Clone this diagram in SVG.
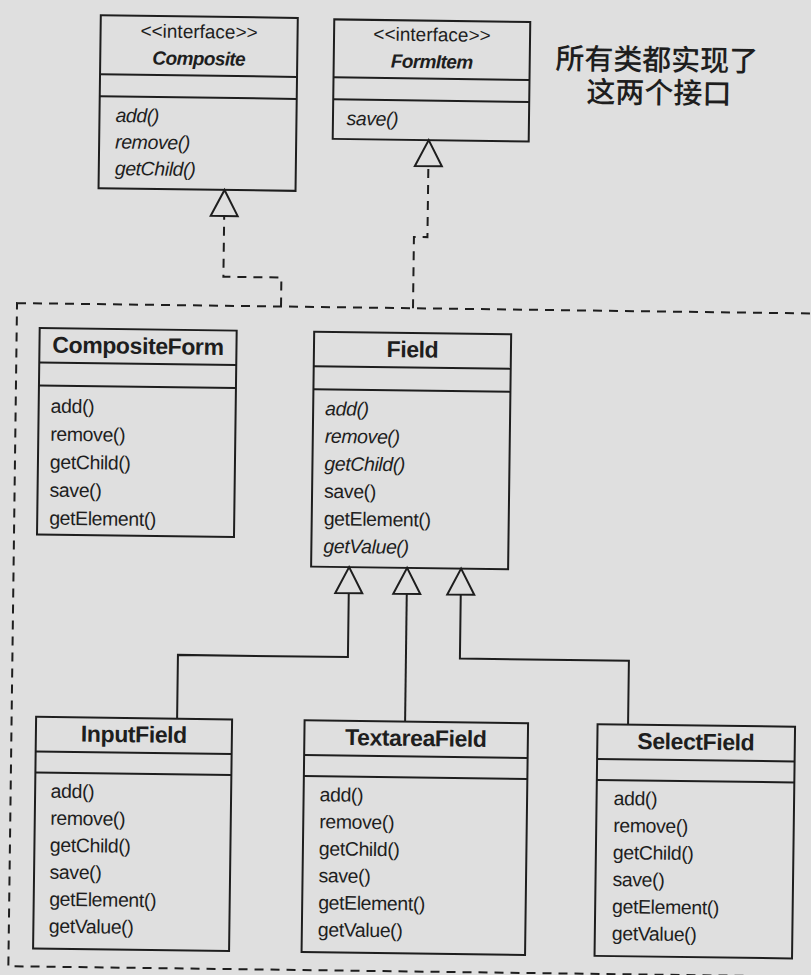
<svg xmlns="http://www.w3.org/2000/svg" width="811" height="975" viewBox="0 0 811 975">
<style>
.box{fill:none;stroke:#1e1e1e;stroke-width:2}
.t{font-family:"Liberation Sans",Arial,sans-serif;fill:#1e1e1e}
.title{font-size:23px;font-weight:bold;letter-spacing:-0.4px;text-anchor:middle}
.stereo{font-size:19px;text-anchor:middle}
.iname{font-size:19px;font-weight:bold;font-style:italic;letter-spacing:-0.6px;text-anchor:middle}
.m{font-size:19.5px;letter-spacing:-0.4px}
.i{font-style:italic}
.conn{fill:none;stroke:#1e1e1e;stroke-width:2}
.dash{stroke-dasharray:9 7}
.note{font-family:"Noto Sans CJK SC","Noto Sans CJK TC",sans-serif;font-size:29px;font-weight:500;fill:#1e1e1e;text-anchor:middle}
</style>
<defs>
<marker id="tri" markerUnits="userSpaceOnUse" markerWidth="32" markerHeight="32" viewBox="-2 -2 32 32" refX="26" refY="14" orient="auto" overflow="visible">
<path d="M0,0.5 L26,14 L0,27.5 Z" fill="#dfdfdf" stroke="#1e1e1e" stroke-width="2" stroke-linejoin="miter"/>
</marker>
</defs>
<rect x="0" y="0" width="811" height="975" fill="#dfdfdf"/>
<g transform="rotate(0.75)">
<g id="package">
<rect class="box dash" x="21" y="302.8" width="900" height="663.2"/>
</g>
<g id="connectors">
<path class="conn dash" d="M285,302.8 V273.8 H227 V187" marker-end="url(#tri)"/>
<path class="conn dash" d="M417,302.8 V231.5 H430.5 V134.5" marker-end="url(#tri)"/>
<path class="conn" d="M186.5,716.3 V652.5 H356.5 V562.5" marker-end="url(#tri)"/>
<path class="conn" d="M414.5,716.3 V562.5" marker-end="url(#tri)"/>
<path class="conn" d="M637.5,716.3 V652.5 H468.5 V562.5" marker-end="url(#tri)"/>
</g>
<g id="Composite">
<rect class="box" x="101" y="14" width="197" height="173"/>
<line class="box" x1="101" y1="73" x2="298" y2="73"/>
<line class="box" x1="101" y1="95" x2="298" y2="95"/>
<text class="t stereo" x="199.5" y="35.5">&lt;&lt;interface&gt;&gt;</text>
<text class="t iname" x="199.5" y="62.5">Composite</text>
<text class="t m i" x="117" y="120.5">add()</text>
<text class="t m i" x="117" y="147">remove()</text>
<text class="t m i" x="117" y="173.5">getChild()</text>
</g>
<g id="FormItem">
<rect class="box" x="334.5" y="15" width="196" height="119.5"/>
<line class="box" x1="334.5" y1="73" x2="530.5" y2="73"/>
<line class="box" x1="334.5" y1="95" x2="530.5" y2="95"/>
<text class="t stereo" x="432.5" y="35.5">&lt;&lt;interface&gt;&gt;</text>
<text class="t iname" x="432.5" y="62.5">FormItem</text>
<text class="t m i" x="348" y="120.5">save()</text>
</g>
<g id="note">
<text class="note" x="657.5" y="61.5">所有类都实现了</text>
<text class="note" x="660" y="94.5">这两个接口</text>
</g>
<g id="CompositeForm">
<rect class="box" x="44" y="327.5" width="197" height="206.5"/>
<line class="box" x1="44" y1="362" x2="241" y2="362"/>
<line class="box" x1="44" y1="385" x2="241" y2="385"/>
<text class="t title" x="142.5" y="352">CompositeForm</text>
<text class="t m" x="56" y="412">add()</text>
<text class="t m" x="56" y="440">remove()</text>
<text class="t m" x="56" y="468">getChild()</text>
<text class="t m" x="56" y="496">save()</text>
<text class="t m" x="56" y="524">getElement()</text>
</g>
<g id="Field">
<rect class="box" x="318.5" y="327.5" width="197" height="235"/>
<line class="box" x1="318.5" y1="362" x2="515.5" y2="362"/>
<line class="box" x1="318.5" y1="385" x2="515.5" y2="385"/>
<text class="t title" x="417" y="352">Field</text>
<text class="t m i" x="330.5" y="411">add()</text>
<text class="t m i" x="330.5" y="438.5">remove()</text>
<text class="t m i" x="330.5" y="466">getChild()</text>
<text class="t m" x="330.5" y="493.5">save()</text>
<text class="t m" x="330.5" y="521">getElement()</text>
<text class="t m i" x="330.5" y="548.5">getValue()</text>
</g>
<g id="InputField">
<rect class="box" x="45.5" y="716.3" width="196" height="231.7"/>
<line class="box" x1="45.5" y1="751" x2="241.5" y2="751"/>
<line class="box" x1="45.5" y1="772" x2="241.5" y2="772"/>
<text class="t title" x="143.5" y="740.5">InputField</text>
<text class="t m" x="61" y="797">add()</text>
<text class="t m" x="61" y="824">remove()</text>
<text class="t m" x="61" y="851">getChild()</text>
<text class="t m" x="61" y="878">save()</text>
<text class="t m" x="61" y="905">getElement()</text>
<text class="t m" x="61" y="932">getValue()</text>
</g>
<g id="TextareaField">
<rect class="box" x="314" y="716.3" width="223.5" height="231.7"/>
<line class="box" x1="314" y1="751" x2="537.5" y2="751"/>
<line class="box" x1="314" y1="772" x2="537.5" y2="772"/>
<text class="t title" x="425.5" y="740.5">TextareaField</text>
<text class="t m" x="330" y="797">add()</text>
<text class="t m" x="330" y="824">remove()</text>
<text class="t m" x="330" y="851">getChild()</text>
<text class="t m" x="330" y="878">save()</text>
<text class="t m" x="330" y="905">getElement()</text>
<text class="t m" x="330" y="932">getValue()</text>
</g>
<g id="SelectField">
<rect class="box" x="607" y="716.3" width="197.5" height="231.7"/>
<line class="box" x1="607" y1="751" x2="804.5" y2="751"/>
<line class="box" x1="607" y1="772" x2="804.5" y2="772"/>
<text class="t title" x="705.5" y="740.5">SelectField</text>
<text class="t m" x="624" y="797">add()</text>
<text class="t m" x="624" y="824">remove()</text>
<text class="t m" x="624" y="851">getChild()</text>
<text class="t m" x="624" y="878">save()</text>
<text class="t m" x="624" y="905">getElement()</text>
<text class="t m" x="624" y="932">getValue()</text>
</g>
</g>
</svg>
